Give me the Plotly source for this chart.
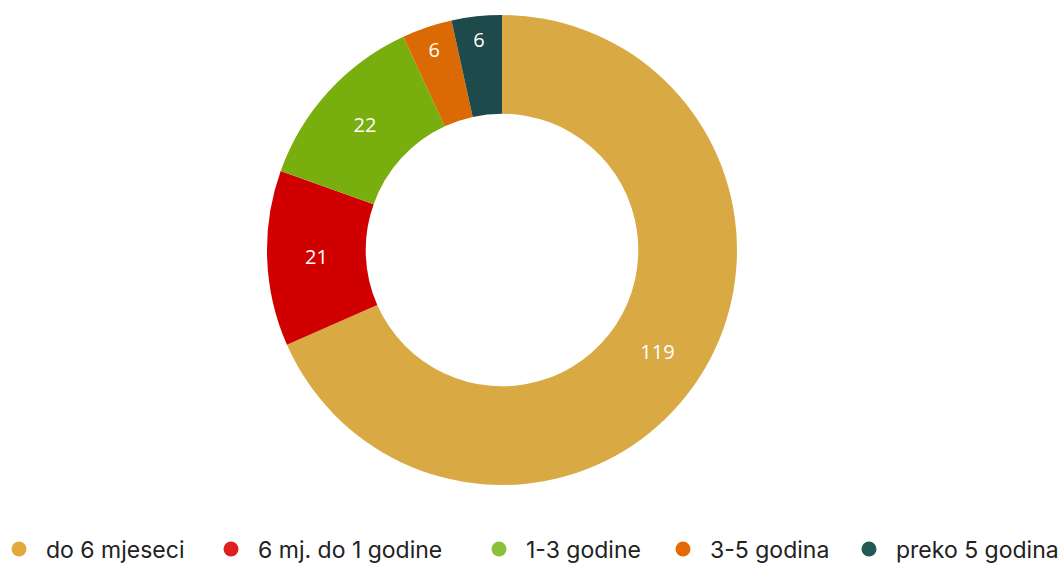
import plotly.graph_objects as go

categories = ["do 6 mjeseci", "6 mj. do 1 godine", "1-3 godine", "3-5 godina", "preko 5 godina"]
values = [119, 21, 22, 6, 6]
colors = ["#D9A944", "#D10000", "#78AE0E", "#DC6A04", "#1E4A4B"]
legend_colors = ["#E3A93C", "#E0201E", "#8CBF3A", "#E36A05", "#235A58"]
legend_marker_px = [18, 230, 498, 682, 868]

W, H = 1062, 564
fig = go.Figure()
fig.add_trace(go.Pie(
    labels=categories, values=values, sort=False, direction="clockwise", rotation=0,
    hole=0.58, marker=dict(colors=colors, line=dict(width=0)),
    textinfo="value", textposition="inside", insidetextorientation="horizontal",
    textfont=dict(family="Open Sans", size=20, color="white"),
    showlegend=False, hoverinfo="label+value",
    domain=dict(x=[267 / W, 737 / W], y=[1 - 485 / H, 1 - 15 / H]),
))
layout_legends = {}
for i, (c, col, mx) in enumerate(zip(categories, legend_colors, legend_marker_px)):
    key = "legend" if i == 0 else f"legend{i + 1}"
    fig.add_trace(go.Scatter(
        x=[None], y=[None], mode="markers", name=c, legend=key,
        marker=dict(symbol="circle", size=15, color=col),
    ))
    layout_legends[key] = dict(
        orientation="h", x=(mx - 26) / W, xanchor="left", y=1 - 549 / H, yanchor="middle",
        font=dict(family="Inter", size=23, color="#222222"),
        itemwidth=44, bgcolor="rgba(0,0,0,0)",
    )

fig.update_layout(
    width=W, height=H, margin=dict(l=0, r=0, t=0, b=0, autoexpand=False),
    paper_bgcolor="white", plot_bgcolor="white",
    xaxis=dict(visible=False), yaxis=dict(visible=False),
    **layout_legends,
)
fig.write_html(
    "out.html",
    config={"displayModeBar": False},
    post_script="document.body.style.margin='0';document.body.style.overflow='hidden';",
)
